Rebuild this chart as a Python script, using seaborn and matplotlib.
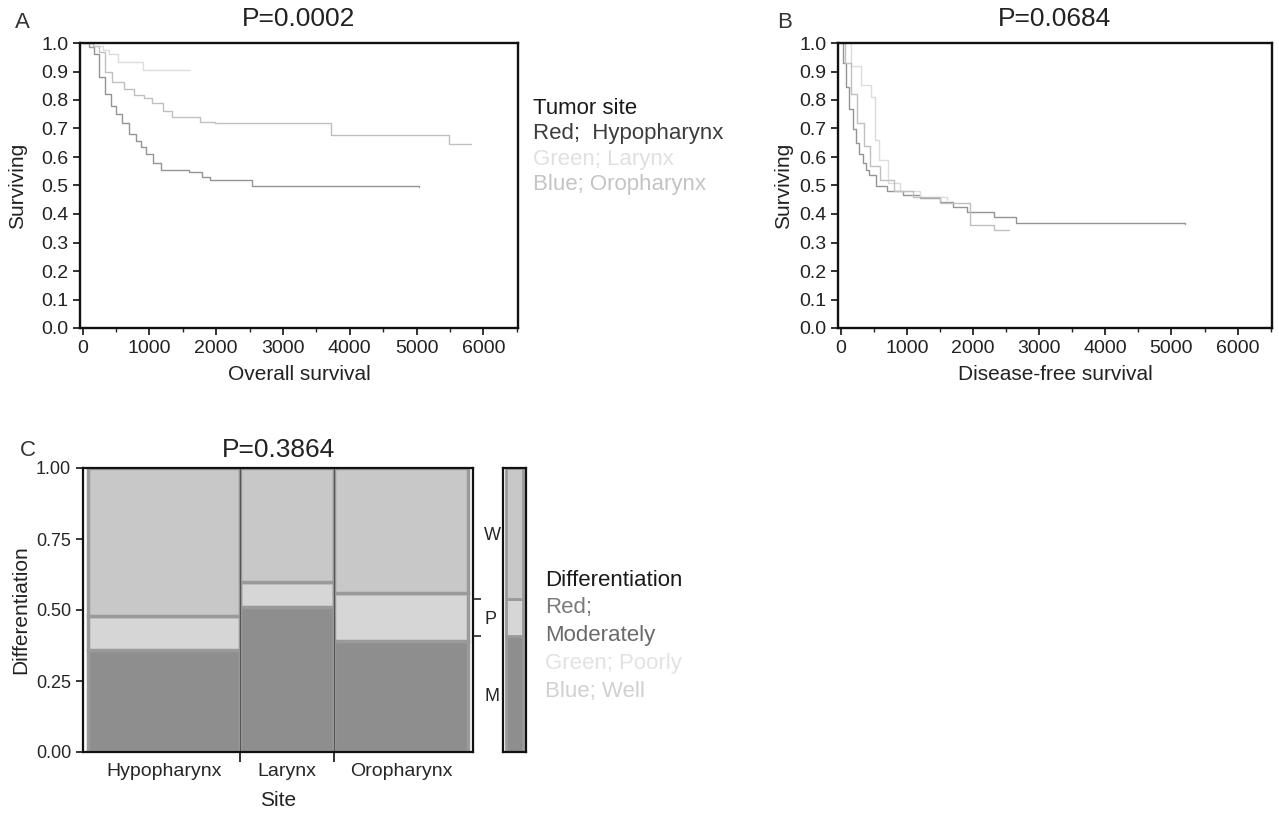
import matplotlib
matplotlib.use("Agg")
import matplotlib.pyplot as plt
from matplotlib.ticker import MultipleLocator, FixedLocator, FormatStrFormatter
import numpy as np
import pandas as pd
import seaborn as sns

# ---- Data ----
# Panel A: overall survival (days) - Kaplan-Meier step points
hypo_os_t = [0, 100, 175, 250, 330, 420, 500, 595, 700, 800, 870, 950, 1050, 1170, 1590, 1790, 1910, 2530, 5030]
hypo_os_s = [1.0, 0.985, 0.96, 0.88, 0.82, 0.78, 0.75, 0.72, 0.68, 0.655, 0.635, 0.61, 0.58, 0.555, 0.548, 0.53, 0.52, 0.50, 0.495]
laryn_os_t = [0, 150, 300, 400, 525, 900, 1600]
laryn_os_s = [1.0, 0.99, 0.975, 0.96, 0.935, 0.905, 0.905]
oro_os_t = [0, 150, 250, 330, 446, 620, 769, 918, 1042, 1200, 1339, 1760, 1984, 3720, 5480, 5820]
oro_os_s = [1.0, 0.99, 0.97, 0.90, 0.864, 0.84, 0.817, 0.806, 0.788, 0.76, 0.741, 0.724, 0.718, 0.677, 0.645, 0.645]

# Panel B: disease-free survival (days)
hypo_dfs_t = [0, 40, 76, 127, 180, 229, 280, 331, 380, 433, 534, 700, 942, 1200, 1502, 1700, 1908, 2316, 2646, 5200]
hypo_dfs_s = [1.0, 0.93, 0.847, 0.77, 0.70, 0.648, 0.61, 0.578, 0.555, 0.537, 0.50, 0.48, 0.467, 0.455, 0.443, 0.425, 0.408, 0.39, 0.37, 0.365]
laryn_dfs_t = [0, 150, 305, 458, 520, 585, 713, 900, 1200, 1600]
laryn_dfs_s = [1.0, 0.92, 0.853, 0.81, 0.66, 0.59, 0.51, 0.48, 0.46, 0.45]
oro_dfs_t = [0, 60, 150, 250, 350, 450, 600, 800, 1100, 1500, 1960, 2316, 2545]
oro_dfs_s = [1.0, 0.93, 0.82, 0.72, 0.64, 0.57, 0.52, 0.48, 0.46, 0.44, 0.361, 0.344, 0.344]

# Panel C: mosaic of differentiation by site (proportions)
sites = ["Hypopharynx", "Larynx", "Oropharynx"]
site_share = [0.40, 0.247, 0.353]
moderately = [0.36, 0.51, 0.39]
poorly = [0.12, 0.09, 0.17]
diff_levels = ["M", "P", "W"]

p_values = ["P=0.0002", "P=0.0684", "P=0.3864"]
panel_letters = ["A", "B", "C"]

# ---- Style ----
sns.set_theme(style="ticks")
plt.rcParams["font.family"] = ["Liberation Sans", "DejaVu Sans"]
plt.rcParams["text.color"] = "#222222"
plt.rcParams["axes.labelcolor"] = "#222222"

line_colors = {"Hypopharynx": "#949494", "Larynx": "#dcdcdc", "Oropharynx": "#c0c0c0"}
cell_colors = {"M": "#8e8e8e", "P": "#d6d6d6", "W": "#c8c8c8"}
W, H = 1279, 814


def km_frame(curves):
    rows = []
    for site, (t, s) in curves.items():
        rows += [{"time": a, "surv": b, "site": site} for a, b in zip(t, s)]
    return pd.DataFrame(rows)


def km_panel(ax, df, title, xlabel, ypad):
    sns.lineplot(data=df, x="time", y="surv", hue="site", palette=line_colors,
                 drawstyle="steps-post", estimator=None, legend=False,
                 linewidth=1.0, ax=ax)
    ax.set_xlim(-40, 6520)
    ax.set_ylim(0, 1.0)
    ax.xaxis.set_major_locator(MultipleLocator(1000))
    ax.xaxis.set_minor_locator(MultipleLocator(500))
    ax.yaxis.set_major_locator(MultipleLocator(0.1))
    ax.yaxis.set_major_formatter(FormatStrFormatter("%.1f"))
    ax.tick_params(which="major", length=5, width=1.3, labelsize=14, colors="#222222")
    ax.tick_params(which="minor", length=3, width=1.0)
    for sp in ax.spines.values():
        sp.set_linewidth(1.7)
        sp.set_color("#111111")
    ax.set_title(title, fontsize=19, pad=12)
    ax.set_xlabel(xlabel, fontsize=15, labelpad=6)
    ax.set_ylabel("Surviving", fontsize=15, labelpad=ypad)


fig = plt.figure(figsize=(W / 100, H / 100), dpi=100)
ax_a = fig.add_axes([80 / W, 1 - 328 / H, 438 / W, 285 / H])
ax_b = fig.add_axes([838 / W, 1 - 328 / H, 434 / W, 285 / H])
ax_m = fig.add_axes([503 / W, 1 - 752 / H, 23 / W, 284 / H])
ax_c = fig.add_axes([83 / W, 1 - 752 / H, 390 / W, 284 / H])

os_df = km_frame({"Hypopharynx": (hypo_os_t, hypo_os_s),
                  "Larynx": (laryn_os_t, laryn_os_s),
                  "Oropharynx": (oro_os_t, oro_os_s)})
dfs_df = km_frame({"Hypopharynx": (hypo_dfs_t, hypo_dfs_s),
                   "Larynx": (laryn_dfs_t, laryn_dfs_s),
                   "Oropharynx": (oro_dfs_t, oro_dfs_s)})
km_panel(ax_a, os_df, p_values[0], "Overall survival", 10)
km_panel(ax_b, dfs_df, p_values[1], "Disease-free survival", 4)

# ---- Mosaic plot ----
share = np.array(site_share)
lefts = np.concatenate([[0], np.cumsum(share)[:-1]])
mod = np.array(moderately)
poo = np.array(poorly)
well = 1 - mod - poo
stack = {"M": (mod, 0), "P": (poo, mod), "W": (well, mod + poo)}
for lev in diff_levels:
    h, b = stack[lev]
    ax_c.bar(lefts, h, width=share, bottom=b, align="edge", color=cell_colors[lev],
             edgecolor="#9a9a9a", linewidth=2.5)
for x in np.cumsum(share)[:-1]:
    ax_c.axvline(x, color="#555555", lw=0.8)
ax_c.set_xlim(-0.012, 1.012)
ax_c.set_ylim(0, 1)
ax_c.set_xticks(lefts + share / 2)
ax_c.set_xticklabels(sites, fontsize=14)
ax_c.xaxis.set_minor_locator(FixedLocator(np.cumsum(share)[:-1]))
ax_c.tick_params(axis="x", which="major", length=0, pad=8)
ax_c.tick_params(axis="x", which="minor", length=7, width=1.3, color="#222222")
ax_c.set_yticks([0, 0.25, 0.5, 0.75, 1.0])
ax_c.yaxis.set_major_formatter(FormatStrFormatter("%.2f"))
ax_c.tick_params(axis="y", length=5, width=1.3, labelsize=13)
ax_c.set_xlabel("Site", fontsize=15, labelpad=8)
ax_c.set_ylabel("Differentiation", fontsize=15, labelpad=4)
ax_c.set_title(p_values[2], fontsize=19, pad=8)
for sp in ax_c.spines.values():
    sp.set_linewidth(1.6)
    sp.set_color("#111111")

# overall marginal shares of M / P / W
margin = np.array([np.sum(share * mod), np.sum(share * poo), np.sum(share * well)])
bounds = np.cumsum(margin)[:-1]
centers = np.cumsum(margin) - margin / 2

ax_r = ax_c.twinx()
ax_r.set_ylim(0, 1)
ax_r.set_yticks(bounds)
ax_r.set_yticklabels([])
ax_r.yaxis.set_minor_locator(FixedLocator(centers))
ax_r.set_yticklabels(diff_levels, minor=True, fontsize=13)
ax_r.tick_params(axis="y", which="major", length=6, width=1.2)
ax_r.tick_params(axis="y", which="minor", length=0, pad=8)
for sp in ax_r.spines.values():
    sp.set_visible(False)

m_bottoms = np.concatenate([[0], bounds])
for i, lev in enumerate(diff_levels):
    ax_m.bar([0], [margin[i]], bottom=m_bottoms[i], width=1.0, color=cell_colors[lev],
             edgecolor="#9a9a9a", linewidth=2.0)
ax_m.set_xlim(-0.7, 0.7)
ax_m.set_ylim(0, 1)
ax_m.set_xticks([])
ax_m.set_yticks([])
for sp in ax_m.spines.values():
    sp.set_linewidth(1.6)
    sp.set_color("#111111")

# ---- Panel letters ----
fig.text(22 / W, 1 - 22 / H, panel_letters[0], fontsize=16, color="#333333", ha="center", va="center")
fig.text(785 / W, 1 - 22 / H, panel_letters[1], fontsize=16, color="#333333", ha="center", va="center")
fig.text(28 / W, 1 - 450 / H, panel_letters[2], fontsize=16, color="#333333", ha="center", va="center")

# ---- Text legends ----
site_legend = [("Tumor site", "#1a1a1a"), ("Red;  Hypopharynx", "#3c3c3c"),
               ("Green; Larynx", "#e0e0e0"), ("Blue; Oropharynx", "#c4c4c4")]
for i, (txt, col) in enumerate(site_legend):
    fig.text(533 / W, 1 - (108 + 25.5 * i) / H, txt, fontsize=16, color=col, va="center")

diff_legend = [("Differentiation", "#1a1a1a"), ("Red;", "#7a7a7a"), ("Moderately", "#6a6a6a"),
               ("Green; Poorly", "#e2e2e2"), ("Blue; Well", "#d0d0d0")]
for i, (txt, col) in enumerate(diff_legend):
    fig.text(545 / W, 1 - (580 + 28 * i) / H, txt, fontsize=16, color=col, va="center")

fig.savefig("out.png", dpi=100, facecolor="white")
